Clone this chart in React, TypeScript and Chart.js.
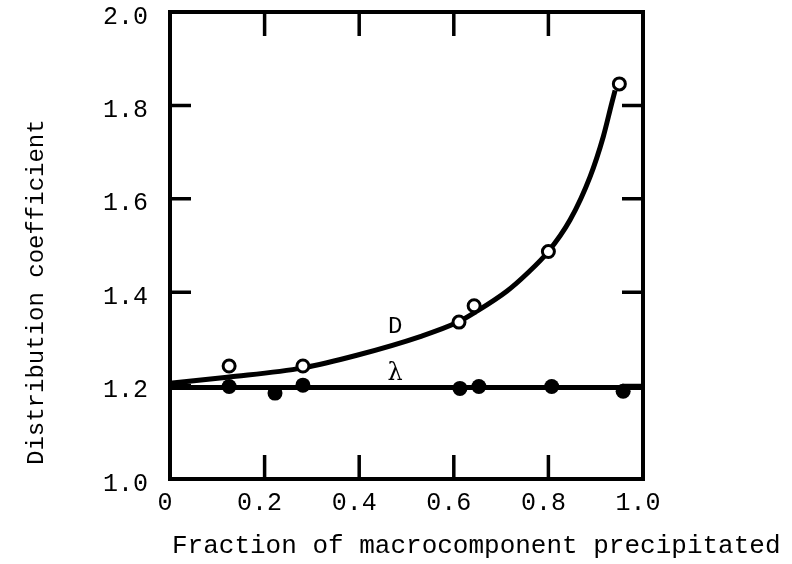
import React, { useEffect, useRef } from 'react';
import { Chart, registerables } from 'chart.js';

Chart.register(...registerables);

// Open circles: distribution coefficient D
const D_X = [0.125, 0.281, 0.611, 0.643, 0.8, 0.95];
const D_Y = [1.242, 1.242, 1.336, 1.371, 1.487, 1.846];
// Filled circles: lambda
const LAMBDA_X = [0.125, 0.222, 0.281, 0.613, 0.653, 0.807, 0.958];
const LAMBDA_Y = [1.198, 1.184, 1.201, 1.194, 1.198, 1.198, 1.188];
// Smooth D curve
const CURVE_X = [0, 0.121, 0.281, 0.395, 0.529, 0.609, 0.645, 0.712, 0.755, 0.799, 0.846, 0.888, 0.916, 0.934, 0.941];
const CURVE_Y = [1.205, 1.218, 1.238, 1.265, 1.305, 1.336, 1.357, 1.402, 1.44, 1.486, 1.555, 1.647, 1.733, 1.805, 1.832];
// Horizontal lambda line
const LAMBDA_LINE_X = [0, 1.0];
const LAMBDA_LINE_Y = [1.196, 1.196];
// Inner tick marks
const X_INNER_TICKS = [0.2, 0.4, 0.6, 0.8];
const Y_INNER_TICKS = [1.2, 1.4, 1.6, 1.8];
// Curve labels
const D_LABEL = { text: 'D', x: 0.476, y: 1.326 };
const LAMBDA_LABEL = { text: 'λ', x: 0.476, y: 1.226 };

const X_TITLE = 'Fraction of macrocomponent precipitated';
const Y_TITLE = 'Distribution coefficient';

const FONT = "'Liberation Mono', 'DejaVu Sans Mono', monospace";

const zip = (xs: number[], ys: number[]) => xs.map((x, i) => ({ x, y: ys[i] }));

const framePlugin = {
  id: 'framePlugin',
  beforeDatasetsDraw(chart: any) {
    const { ctx, chartArea: a, scales } = chart;
    const x = scales.x;
    const y = scales.y;
    ctx.save();
    ctx.strokeStyle = '#000';
    ctx.lineWidth = 4;
    ctx.lineCap = 'square';
    ctx.strokeRect(a.left, a.top, a.right - a.left, a.bottom - a.top);
    ctx.lineWidth = 3.5;
    ctx.lineCap = 'butt';
    ctx.beginPath();
    X_INNER_TICKS.forEach((v) => {
      const px = x.getPixelForValue(v);
      ctx.moveTo(px, a.bottom);
      ctx.lineTo(px, a.bottom - 24);
      ctx.moveTo(px, a.top);
      ctx.lineTo(px, a.top + 24);
    });
    Y_INNER_TICKS.forEach((v) => {
      const py = y.getPixelForValue(v);
      ctx.moveTo(a.left, py);
      ctx.lineTo(a.left + 21, py);
      ctx.moveTo(a.right, py);
      ctx.lineTo(a.right - 21, py);
    });
    ctx.stroke();
    ctx.restore();
  },
  afterDraw(chart: any) {
    const { ctx, chartArea: a, scales } = chart;
    const x = scales.x;
    const y = scales.y;
    ctx.save();
    ctx.fillStyle = '#000';
    // curve labels
    ctx.font = `24px ${FONT}`;
    ctx.textAlign = 'center';
    ctx.textBaseline = 'middle';
    ctx.fillText(D_LABEL.text, x.getPixelForValue(D_LABEL.x), y.getPixelForValue(D_LABEL.y));
    ctx.font = `24px 'DejaVu Serif', serif`;
    ctx.fillText(LAMBDA_LABEL.text, x.getPixelForValue(LAMBDA_LABEL.x), y.getPixelForValue(LAMBDA_LABEL.y));
    // x title
    ctx.font = `26px ${FONT}`;
    ctx.textAlign = 'left';
    ctx.textBaseline = 'alphabetic';
    ctx.fillText(X_TITLE, a.left + 2, 553);
    // y title
    ctx.font = `24px ${FONT}`;
    ctx.translate(43, a.bottom - 14);
    ctx.rotate(-Math.PI / 2);
    ctx.textAlign = 'left';
    ctx.textBaseline = 'alphabetic';
    ctx.fillText(Y_TITLE, 0, 0);
    ctx.restore();
  },
};

export default function App() {
  const ref = useRef<HTMLCanvasElement | null>(null);
  useEffect(() => {
    if (!ref.current) return;
    const chart = new Chart(ref.current, {
      type: 'scatter',
      data: {
        datasets: [
          {
            label: 'D points',
            data: zip(D_X, D_Y),
            pointRadius: 6,
            pointBorderWidth: 3,
            pointBackgroundColor: '#fff',
            pointBorderColor: '#000',
            showLine: false,
            order: 0,
          },
          {
            label: 'λ points',
            data: zip(LAMBDA_X, LAMBDA_Y),
            pointRadius: 7.5,
            pointBorderWidth: 0,
            pointBackgroundColor: '#000',
            pointBorderColor: '#000',
            showLine: false,
            order: 1,
          },
          {
            label: 'D curve',
            data: zip(CURVE_X, CURVE_Y),
            showLine: true,
            borderColor: '#000',
            borderWidth: 5,
            pointRadius: 0,
            cubicInterpolationMode: 'monotone',
            order: 2,
          },
          {
            label: 'λ line',
            data: zip(LAMBDA_LINE_X, LAMBDA_LINE_Y),
            showLine: true,
            borderColor: '#000',
            borderWidth: 5,
            pointRadius: 0,
            order: 3,
          },
        ],
      },
      options: {
        responsive: false,
        animation: false,
        devicePixelRatio: 1,
        clip: false,
        layout: { padding: { left: 0, top: 12, right: 149, bottom: 0 } },
        plugins: { legend: { display: false }, tooltip: { enabled: false } },
        scales: {
          x: {
            type: 'linear',
            min: 0,
            max: 1,
            grid: { display: false, drawTicks: false },
            border: { display: false },
            ticks: {
              stepSize: 0.2,
              padding: 9,
              labelOffset: -5,
              color: '#000',
              font: { family: FONT, size: 25 },
              callback: (v: any) => (Number(v) === 0 ? '0' : Number(v).toFixed(1)),
            },
            afterFit: (s: any) => {
              s.height = 85;
              s.paddingLeft = 0;
              s.paddingRight = 0;
            },
          },
          y: {
            type: 'linear',
            min: 1,
            max: 2,
            grid: { display: false, drawTicks: false },
            border: { display: false },
            ticks: {
              stepSize: 0.2,
              padding: 22,
              labelOffset: 5,
              color: '#000',
              font: { family: FONT, size: 25 },
              callback: (v: any) => Number(v).toFixed(1),
            },
            afterFit: (s: any) => {
              s.width = 170;
              s.paddingTop = 0;
              s.paddingBottom = 0;
            },
          },
        },
      },
      plugins: [framePlugin],
    } as any);
    return () => chart.destroy();
  }, []);
  return (
    <div style={{ position: 'fixed', left: 0, top: 0, width: 792, height: 564, background: '#fff' }}>
      <canvas ref={ref} width={792} height={564} style={{ display: 'block' }} />
    </div>
  );
}
